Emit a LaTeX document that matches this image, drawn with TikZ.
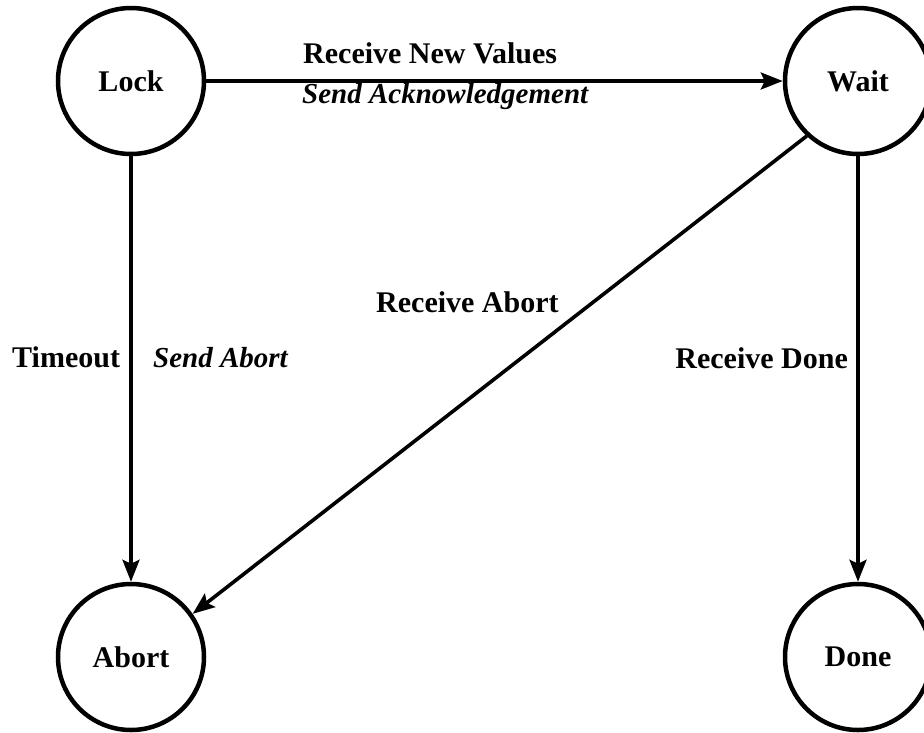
\documentclass[tikz,border=0pt]{standalone}
\usepackage{fontspec}
\setmainfont{Liberation Serif}
\usetikzlibrary{arrows.meta}
\begin{document}
\begin{tikzpicture}[x=1pt,y=-1pt,
  state/.style={circle,draw,line width=4.5pt,minimum size=146pt,inner sep=0pt,font=\fontsize{30}{32}\selectfont\bfseries},
  trans/.style={line width=3.6pt,-{Stealth[length=22pt,width=17pt,inset=4pt]}},
  lbl/.style={inner sep=0pt,font=\fontsize{30}{32}\selectfont\bfseries},
  ilbl/.style={inner sep=0pt,font=\fontsize{29}{32}\selectfont\bfseries\itshape}]
\useasboundingbox (0,0) rectangle (924,732);
\fill[white] (0,0) rectangle (924,732);
\node[state] (L) at (131,81) {Lock};
\node[state] (W) at (858,81) {Wait};
\node[state] (A) at (131,657) {Abort};
\node[state] (D) at (858,657) {Done};
\draw[trans] (L.east) -- (W.west);
\draw[trans] (L.south) -- (A.north);
\draw[trans] (W.south) -- (D.north);
\draw[trans] (W.227) -- (A.35);
\node[lbl,anchor=base west] (t1) at (303,63) {Receive New Values};
\node[ilbl,anchor=base west] (t2) at (302,103) {Send Acknowledgement};
\node[lbl,anchor=base west] (t3) at (12,367) {Timeout};
\node[ilbl,anchor=base west] (t4) at (153,367) {Send Abort};
\node[lbl,anchor=base east] (t5) at (848,368) {Receive Done};
\node[lbl,anchor=base west] (t6) at (376,312) {Receive Abort};
\end{tikzpicture}
\end{document}
